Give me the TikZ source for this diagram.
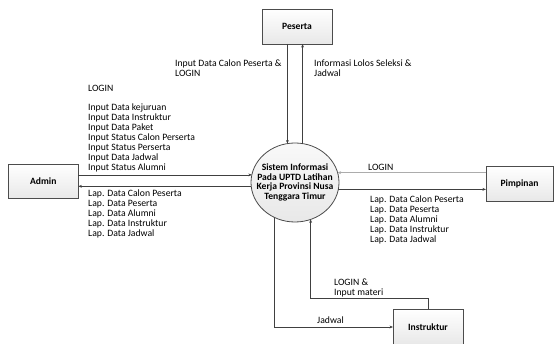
\documentclass[tikz,border=0pt]{standalone}
\usepackage{fontspec}
\setmainfont{Carlito}
\usetikzlibrary{shapes.geometric,arrows.meta}
\begin{document}
\begin{tikzpicture}[x=1pt,y=-1pt,
  txt/.style={font=\fontsize{9.7}{10}\selectfont, inner sep=0pt, align=left, anchor=north west, text=black},
  ent/.style={draw=black!70, line width=0.8pt, rectangle, top color=white, bottom color=gray!18,
    minimum width=70pt, minimum height=35pt, inner sep=0pt, outer sep=0pt,
    font=\fontsize{9.6}{10}\selectfont\bfseries},
  proc/.style={draw=black!70, line width=0.8pt, ellipse, top color=gray!5, bottom color=gray!18,
    minimum width=88pt, minimum height=79pt, inner sep=0pt, outer sep=0pt},
  arr/.style={draw=black!75, line width=0.6pt, -{Stealth[length=3.5pt,width=2.8pt]}},
  arrl/.style={draw=gray!65, line width=1.1pt, -{Stealth[length=3.5pt,width=3pt]}}
]
\useasboundingbox (0,0) rectangle (554,344);

\node[ent] (peserta) at (297,26.5) {Peserta};
\node[ent, minimum height=34pt] (admin) at (43.3,181.2) {Admin};
\node[ent, minimum width=67pt] (pimpinan) at (519.5,183.5) {Pimpinan};
\node[ent] (instruktur) at (428,327) {Instruktur};
\node[proc, label={[font=\fontsize{9.6}{9.4}\selectfont\bfseries, align=center, text=black]center:Sistem Informasi\\Pada UPTD Latihan\\Kerja Provinsi Nusa\\Tenggara Timur}] (sys) at (295,182.5) {};

% Peserta
\draw[arr] (sys.101.6 |- peserta.south) -- (sys.101.6);
\draw[arr] (sys.79) -- (sys.79 |- peserta.south);
% Admin
\draw[arr] (admin.east |- sys.170.15) -- (sys.170.15);
\draw[arr] (sys.185.88) -- (admin.east |- sys.185.88);
% Pimpinan
\draw[arrl] (pimpinan.west |- sys.13.2) -- (sys.13.2);
\draw[arr] (sys.-9.85) -- (pimpinan.west |- sys.-9.85);
% Instruktur
\draw[arr] (sys.240.4) |- (instruktur.west);
\draw[arr] (instruktur.north) -- ++(0,-11) -| (sys.293.5);

% labels
\node[txt] (l1) at (175,60) {Input Data Calon Peserta \&\\LOGIN};
\node[txt] (l2) at (314,60) {Informasi Lolos Seleksi \&\\Jadwal};
\node[txt] (l3) at (88,85) {LOGIN};
\node[txt] (l4) at (88,104) {Input Data kejuruan\\Input Data Instruktur\\Input Data Paket\\Input Status Calon Perserta\\Input Status Perserta\\Input Data Jadwal\\Input Status Alumni};
\node[txt] (l5) at (88,190) {Lap. Data Calon Peserta\\Lap. Data Peserta\\Lap. Data Alumni\\Lap. Data Instruktur\\Lap. Data Jadwal};
\node[txt] (l6) at (368,164) {LOGIN};
\node[txt] (l7) at (370,195.6) {Lap. Data Calon Peserta\\Lap. Data Peserta\\Lap. Data Alumni\\Lap. Data Instruktur\\Lap. Data Jadwal};
\node[txt] (l8) at (334,279) {LOGIN \&\\Input materi};
\node[txt] (l9) at (317,317) {Jadwal};
\end{tikzpicture}
\end{document}
